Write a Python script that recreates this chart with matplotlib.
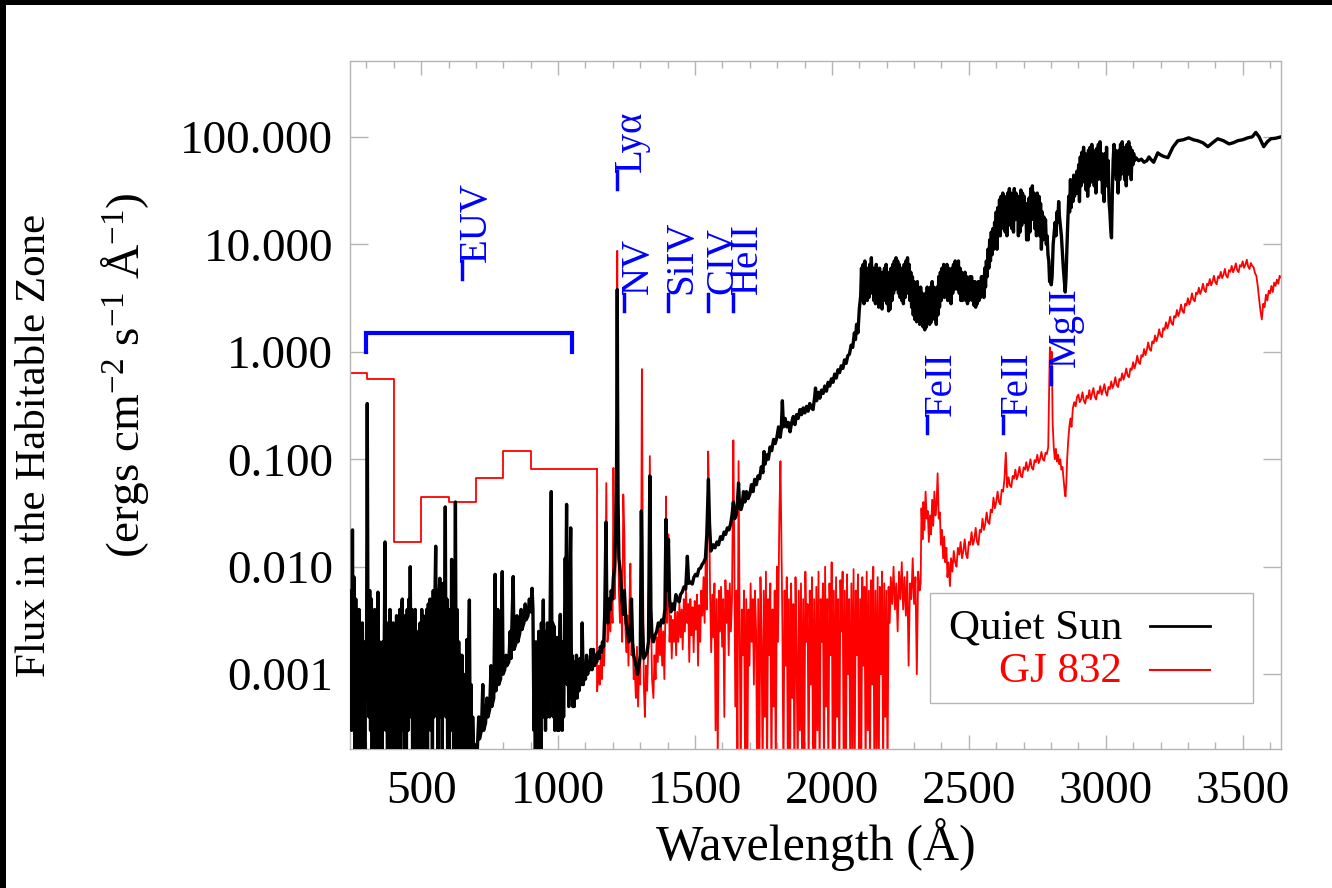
import numpy as np
import matplotlib
matplotlib.use("Agg")
import matplotlib.pyplot as plt
from matplotlib.ticker import FixedLocator, MultipleLocator, FormatStrFormatter, NullLocator
from matplotlib.patches import Rectangle
from matplotlib.lines import Line2D

plt.rcParams['font.family'] = ['Liberation Serif', 'DejaVu Serif']
plt.rcParams['mathtext.fontset'] = 'custom'
plt.rcParams['mathtext.rm'] = 'Liberation Serif'
plt.rcParams['mathtext.it'] = 'Liberation Serif:italic'

# ---------------- data ----------------
# Quiet Sun, EUV emission-line region (wavelength A, flux)
quiet_sun_euv = [
(240,0.0015),(243,0.006),(246,0.0003),(249,0.022),(252,0.0005),(255,0.008),(258,0.0002),(261,0.005),
(264,0.0004),(267,0.003),(270,0.00015),(273,0.004),(276,0.0003),(279,0.0025),(282,0.0001),(285,0.003),
(288,0.0004),(291,0.002),(294,0.0002),(297,0.0015),(300,0.0006),(303,0.33),(306,0.0012),(309,0.0004),
(312,0.006),(315,0.0003),(318,0.005),(321,0.0002),(324,0.0025),(327,0.0003),(330,0.004),(333,0.0001),
(336,0.003),(339,0.0004),(342,0.0058),(345,0.0002),(348,0.002),(351,0.0001),(354,0.0015),(357,0.0002),
(360,0.002),(363,0.0004),(366,0.004),(368,0.017),(371,0.0003),(374,0.003),(377,0.0001),(380,0.0025),
(383,0.0001),(386,0.004),(389,0.0001),(392,0.0022),(395,0.0001),(398,0.003),(401,0.0001),(404,0.0028),
(407,0.0001),(410,0.0035),(413,0.0002),(416,0.003),(419,0.0003),(422,0.004),(425,0.0002),(428,0.004),
(431,0.005),(434,0.0003),(437,0.0035),(440,0.0001),(443,0.003),(446,0.0002),(449,0.004),(452,0.0003),
(455,0.005),(458,0.0006),(460,0.01),(463,0.0004),(466,0.004),(469,0.0001),(472,0.003),(475,0.0002),
(478,0.004),(481,0.0001),(484,0.0025),(487,0.0001),(490,0.002),(493,0.0001),(496,0.003),(499,0.0002),
(502,0.004),(505,0.0003),(508,0.0035),(511,0.0001),(514,0.003),(517,0.0001),(520,0.004),(523,0.0002),
(526,0.0045),(529,0.0004),(532,0.005),(535,0.0003),(538,0.0045),(541,0.0002),(544,0.006),(547,0.0004),
(550,0.005),(553,0.0155),(556,0.0005),(559,0.006),(562,0.0002),(565,0.005),(568,0.0078),(571,0.0004),
(574,0.006),(577,0.0002),(580,0.007),(583,0.0005),(586,0.005),(588,0.036),(591,0.0004),(594,0.005),
(597,0.0001),(600,0.004),(603,0.0002),(606,0.004),(609,0.0005),(611,0.0117),(614,0.0003),(617,0.005),
(620,0.0001),(623,0.005),(625,0.04),(628,0.0003),(631,0.004),(634,0.0001),(637,0.002),(640,0.0001),
(643,0.0015),(646,0.0001),(649,0.0015),(652,0.0001),(655,0.001),(658,0.0001),(661,0.0009),(664,0.0001),
(667,0.0021),(670,0.0001),(673,0.0015),(676,0.0049),(679,0.0002),(682,0.0008),(685,0.0001),(688,0.0004)]

# Quiet Sun, 690-2105 A (continuum + FUV lines)
quiet_sun_fuv = [
(692,0.00018),(700,0.00022),(705,0.0002),(710,0.0004),(713,0.00025),(720,0.0003),(725,0.0008),(728,0.0003),
(735,0.00035),(740,0.0006),(744,0.0004),(750,0.00047),(755,0.0012),(758,0.0005),(765,0.0006),(770,0.0085),
(773,0.0007),(780,0.004),(783,0.0008),(790,0.0009),(796,0.009),(799,0.001),(805,0.0011),(810,0.0015),
(813,0.0012),(820,0.0013),(825,0.0025),(828,0.0014),(836,0.0081),(839,0.0017),(845,0.0019),(850,0.0035),
(853,0.002),(860,0.0024),(865,0.004),(868,0.0026),(875,0.003),(880,0.0045),(883,0.0032),(890,0.0035),
(895,0.005),(900,0.0038),(905,0.0063),(908,0.0041),(912,0.0003),
(914,0.0012),(917,0.0002),(919,0.002),(922,0.0003),(924,0.0015),(927,0.0002),(929,0.0025),(932,0.0003),
(934,0.0018),(937,0.0002),(939,0.003),(942,0.0004),(944,0.002),(946,0.0049),(949,0.0004),(951,0.0025),
(954,0.0003),(956,0.002),(959,0.0004),(961,0.003),(964,0.0005),(966,0.0025),(969,0.0004),(971,0.004),
(975,0.05),(978,0.0006),(980,0.003),(983,0.0004),(985,0.0028),(988,0.0003),(990,0.002),(993,0.0004),
(995,0.0022),(998,0.0003),(1000,0.0018),(1003,0.0003),(1005,0.0015),(1008,0.0036),(1010,0.0004),(1013,0.0015),
(1015,0.0003),(1018,0.002),(1020,0.0004),(1023,0.002),(1026,0.012),(1028,0.004),(1031,0.038),(1034,0.0008),
(1036,0.002),(1039,0.0005),(1041,0.003),(1044,0.01),(1046,0.023),(1049,0.0006),(1051,0.0015),(1054,0.0005),
(1056,0.0012),(1059,0.0005),(1061,0.0013),(1064,0.0006),(1067,0.0015),(1070,0.0006),(1073,0.0012),(1076,0.0007),
(1080,0.0014),(1084,0.0008),(1088,0.003),(1092,0.0008),(1096,0.0012),(1100,0.0009),(1104,0.0015),(1108,0.001),
(1112,0.0013),(1116,0.0011),(1120,0.0017),(1124,0.0011),(1129,0.0017),(1133,0.0012),(1137,0.0015),(1141,0.0013),
(1146,0.0016),(1150,0.0014),(1154,0.0018),(1158,0.0016),(1162,0.002),(1166,0.0018),(1170,0.0035),(1175,0.026),
(1178,0.004),(1182,0.003),(1186,0.005),(1190,0.004),(1194,0.006),(1198,0.005),(1202,0.008),(1206,0.01),
(1210,0.02),(1213,0.05),(1215,0.5),(1216,3.8),(1217,0.5),(1219,0.04),(1222,0.012),(1227,0.009),
(1233,0.005),(1238,0.0036),(1242,0.006),(1248,0.003),(1253,0.0026),(1258,0.002),(1263,0.0025),(1268,0.005),
(1272,0.002),(1276,0.0015),(1282,0.0013),(1286,0.0011),(1290,0.001),(1295,0.0012),(1300,0.0015),(1304,0.033),
(1308,0.003),(1313,0.0014),(1319,0.0015),(1325,0.0016),(1330,0.002),(1335,0.07),(1339,0.004),(1343,0.0022),
(1348,0.002),(1354,0.0023),(1360,0.0025),(1366,0.003),(1372,0.0028),(1378,0.0032),(1384,0.003),(1390,0.004),
(1394,0.0276),(1398,0.006),(1403,0.018),(1407,0.005),(1412,0.0038),(1418,0.0045),(1424,0.004),(1430,0.0055),
(1436,0.005),(1442,0.0047),(1447,0.0055),(1453,0.0058),(1460,0.0065),(1466,0.0062),(1472,0.0125),(1477,0.007),
(1483,0.0072),(1490,0.0069),(1496,0.008),(1502,0.0085),(1508,0.0082),(1514,0.0095),(1520,0.0097),(1526,0.0105),
(1532,0.011),(1538,0.012),(1543,0.02),(1549,0.065),(1553,0.025),(1558,0.014),(1563,0.015),(1567,0.016),
(1573,0.015),(1580,0.017),(1586,0.016),(1593,0.019),(1600,0.018),(1606,0.021),(1612,0.02),(1618,0.023),
(1624,0.022),(1630,0.025),(1635,0.03),(1640,0.04),(1645,0.028),(1650,0.03),(1655,0.04),(1659,0.06),
(1663,0.035),(1668,0.034),(1672,0.037),(1677,0.05),(1682,0.04),(1688,0.05),(1694,0.043),(1700,0.047),
(1706,0.058),(1712,0.05),(1718,0.065),(1724,0.058),(1730,0.07),(1736,0.066),(1742,0.085),(1748,0.075),
(1752,0.118),(1756,0.09),(1762,0.11),(1768,0.1),(1774,0.13),(1780,0.12),(1787,0.153),(1793,0.14),
(1799,0.16),(1805,0.2),(1811,0.16),(1815,0.19),(1819,0.35),(1823,0.2),(1829,0.24),(1835,0.2),
(1841,0.22),(1847,0.18),(1853,0.22),(1859,0.25),(1865,0.21),(1871,0.26),(1877,0.24),(1883,0.29),
(1889,0.26),(1895,0.3),(1901,0.27),(1907,0.31),(1913,0.28),(1919,0.33),(1925,0.3),(1931,0.29),
(1937,0.38),(1940,0.46),(1944,0.35),(1950,0.42),(1956,0.37),(1962,0.44),(1968,0.41),(1974,0.48),
(1980,0.43),(1986,0.52),(1992,0.48),(1998,0.56),(2004,0.52),(2010,0.62),(2016,0.57),(2022,0.68),
(2028,0.64),(2034,0.74),(2040,0.7),(2046,0.84),(2052,0.78),(2058,0.92),(2064,0.95),(2070,1.15),
(2076,1.1),(2082,1.5),(2086,1.3),(2090,1.8),(2095,1.5),(2100,2.5)]

# Quiet Sun, 2105-3640 A (NUV)
quiet_sun_nuv = [
(2105,3.3),(2108,6.0),(2111,3.0),(2114,6.5),(2117,2.8),(2120,7.0),(2123,3.5),(2126,5.5),(2129,3.0),(2132,6.0),
(2135,3.2),(2138,6.5),(2141,3.5),(2144,7.5),(2147,4.0),(2150,6.0),(2153,3.0),(2156,5.5),(2159,2.8),(2162,6.5),
(2165,3.5),(2168,5.5),(2171,2.6),(2174,6.0),(2177,3.2),(2180,5.0),(2183,2.5),(2186,5.5),(2189,3.0),(2192,6.0),
(2195,3.2),(2198,6.5),(2201,2.8),(2204,5.0),(2207,2.4),(2210,5.5),(2213,2.5),(2216,6.0),(2219,3.0),(2222,6.5),
(2225,3.5),(2228,7.0),(2231,3.8),(2234,7.5),(2237,4.0),(2240,7.0),(2243,3.5),(2246,6.5),(2249,3.2),(2252,6.0),
(2255,3.0),(2258,5.5),(2261,2.8),(2264,6.5),(2267,3.2),(2270,7.0),(2273,3.5),(2276,7.5),(2279,3.8),(2282,6.5),
(2285,3.0),(2288,5.5),(2291,2.6),(2294,5.0),(2297,2.2),(2300,4.5),(2303,2.0),(2306,4.0),(2309,1.9),(2312,4.5),
(2315,2.0),(2318,3.8),(2321,1.8),(2324,4.0),(2327,1.9),(2330,3.5),(2333,1.7),(2336,3.2),(2339,1.6),(2342,3.5),
(2345,1.7),(2348,4.0),(2351,2.0),(2354,3.5),(2357,1.8),(2360,4.0),(2363,1.9),(2366,4.5),(2369,2.2),(2372,4.0),
(2375,2.0),(2378,3.5),(2381,1.8),(2384,4.0),(2387,2.2),(2390,5.0),(2393,2.6),(2396,5.5),(2399,3.0),(2402,6.0),
(2405,3.5),(2408,6.5),(2411,3.2),(2414,6.0),(2417,3.5),(2420,6.5),(2423,3.0),(2426,6.0),(2429,3.2),(2432,5.5),
(2435,2.8),(2438,6.0),(2441,3.5),(2444,6.5),(2447,3.8),(2450,7.0),(2453,4.0),(2456,6.5),(2459,3.8),(2462,7.0),
(2465,3.5),(2468,6.0),(2471,3.0),(2474,5.5),(2477,3.0),(2480,5.0),(2483,3.2),(2486,5.5),(2489,3.0),(2492,5.0),
(2495,2.8),(2498,4.5),(2501,3.0),(2504,5.0),(2507,3.2),(2510,5.0),(2513,3.0),(2516,4.5),(2519,2.7),(2522,4.5),
(2525,2.6),(2528,4.0),(2531,2.8),(2534,4.5),(2537,3.0),(2540,4.5),(2543,3.2),(2546,5.0),(2549,3.4),(2552,5.0),
(2555,3.2),(2558,6.0),(2561,4.0),(2564,7.0),(2567,5.0),(2570,9.0),(2573,6.0),(2576,11),(2579,7.0),(2582,13),
(2585,8.0),(2588,14),(2591,9.0),(2594,16),(2597,10),(2600,20),(2603,9.0),(2606,22),(2609,12),(2612,26),
(2615,12),(2618,28),(2621,15),(2624,30),(2627,14),(2630,28),(2633,13),(2636,25),(2639,12),(2642,30),
(2645,15),(2648,33),(2651,18),(2654,30),(2657,14),(2660,28),(2663,13),(2666,33),(2669,17),(2672,30),
(2675,20),(2678,26),(2681,12),(2684,28),(2687,13),(2690,32),(2693,15),(2696,30),(2699,17),(2702,28),
(2705,16),(2708,24),(2711,11),(2714,22),(2717,11),(2720,27),(2723,13),(2726,33),(2729,18),(2732,35),
(2735,17),(2738,30),(2741,14),(2744,26),(2747,12),(2750,30),(2753,15),(2756,28),(2759,12),(2762,24),
(2765,9.0),(2768,20),(2771,11),(2774,18),(2777,12),(2780,17),(2783,10),(2786,12),(2789,8.0),(2792,7.0),
(2795,4.5),(2798,6.0),(2801,4.2),(2804,5.0),(2808,10),(2812,13),(2815,16),(2818,12),(2822,20),(2825,16),
(2828,25),(2831,18),(2834,15),(2838,12),(2841,9.0),(2845,6.0),(2849,4.5),(2852,3.6),(2855,5.0),(2858,9.0),
(2862,18),(2865,28),(2868,20),(2871,40),(2874,22),(2877,38),(2880,25),(2883,44),(2886,28),(2889,40),
(2892,30),(2895,48),(2898,30),(2901,55),(2904,25),(2907,65),(2910,35),(2913,72),(2916,38),(2919,80),
(2922,40),(2925,70),(2928,32),(2931,65),(2934,28),(2937,75),(2940,35),(2943,80),(2946,38),(2949,85),
(2952,40),(2955,75),(2958,35),(2961,70),(2964,30),(2967,78),(2970,40),(2973,85),(2976,45),(2979,90),
(2982,40),(2985,70),(2988,30),(2991,60),(2994,25),(2997,70),(3000,35),(3003,80),(3006,35),(3009,60),
(3012,25),(3015,20),(3018,14),(3021,11.5),(3024,30),(3027,60),(3030,85),(3033,45),(3036,75),(3039,40),
(3042,70),(3045,30),(3048,75),(3051,40),(3054,85),(3057,45),(3060,90),(3063,48),(3066,80),(3069,40),
(3072,75),(3075,35),(3078,85),(3081,45),(3084,90),(3087,50),(3090,80),(3093,40),(3096,75),(3099,55),
(3102,70),(3105,60),(3110,64),(3120,60),(3130,62),(3140,58),(3150,60),(3158,65),(3164,62),(3175,58),
(3190,71),(3200,68),(3210,66),(3227,64),(3245,80),(3263,92),(3283,94),(3303,98),(3320,94),(3336,92),
(3355,88),(3373,81),(3390,88),(3409,96),(3430,92),(3450,86),(3465,88),(3482,92),(3500,94),(3519,98),
(3535,100),(3548,110),(3560,100),(3577,81),(3590,90),(3603,96),(3620,97),(3640,100)]

# GJ 832, binned EUV (bin edges and flux)
gj832_euv_edges = [240, 303, 400, 500, 600, 700, 800, 900, 1143]
gj832_euv_flux = [0.64, 0.56, 0.017, 0.045, 0.040, 0.067, 0.12, 0.082, 0.082]

# GJ 832, FUV spectrum
gj832_fuv = [
(1143,0.0007),(1148,0.0012),(1152,0.0008),(1156,0.0015),(1160,0.0009),(1164,0.002),(1168,0.0012),(1172,0.003),
(1176,0.06),(1180,0.002),(1183,0.0023),(1187,0.004),(1191,0.0025),(1195,0.005),(1199,0.003),(1202,0.083),
(1206,0.005),(1210,0.01),(1213,0.05),(1215,1.0),(1216,8.7),(1217,1.0),(1219,0.05),(1222,0.006),
(1226,0.003),(1230,0.005),(1234,0.002),(1238,0.047),(1242,0.02),(1246,0.0025),(1250,0.0016),(1253,0.0035),
(1257,0.0012),(1260,0.004),(1264,0.0107),(1268,0.0015),(1272,0.0025),(1276,0.0009),(1280,0.0011),(1284,0.0006),
(1288,0.0018),(1292,0.0005),(1296,0.0012),(1300,0.0008),(1304,0.03),(1306,0.69),(1309,0.02),(1313,0.0008),
(1317,0.0004),(1321,0.0012),(1325,0.0007),(1330,0.002),(1335,0.107),(1339,0.004),(1343,0.0009),(1348,0.0006),
(1352,0.0015),(1356,0.0009),(1360,0.0022),(1364,0.0013),(1368,0.0028),(1372,0.0015),(1376,0.003),(1380,0.0012),
(1384,0.0025),(1388,0.0009),(1392,0.004),(1394,0.045),(1398,0.003),(1403,0.02),(1407,0.002),(1411,0.0035),
(1415,0.0014),(1419,0.0032),(1423,0.002),(1427,0.004),(1431,0.0015),(1435,0.0038),(1439,0.002),(1443,0.0045),
(1447,0.0022),(1451,0.004),(1455,0.0017),(1459,0.005),(1463,0.0025),(1467,0.006),(1471,0.003),(1475,0.0045),
(1479,0.0013),(1483,0.005),(1487,0.0023),(1491,0.0042),(1495,0.0016),(1499,0.0048),(1503,0.0026),(1507,0.0055),
(1511,0.0012),(1515,0.0044),(1519,0.002),(1523,0.006),(1527,0.0035),(1531,0.008),(1535,0.003),(1539,0.012),
(1543,0.004),(1548,0.118),(1551,0.05),(1555,0.006),(1559,0.0016),(1563,0.0055),(1567,0.0022),(1571,0.007),
(1575,0.0003),(1579,0.005),(1583,0.00015),(1587,0.006),(1591,0.0025),(1595,0.0065),(1599,0.0018),(1603,0.005),
(1607,0.0004),(1611,0.0075),(1615,0.003),(1619,0.006),(1623,0.0015),(1627,0.007),(1631,0.0025),(1635,0.005),
(1640,0.15),(1643,0.02),(1647,0.0005),(1651,0.006),(1655,0.00015),(1659,0.096),(1663,0.003),(1667,0.0001),
(1671,0.004),(1675,0.0015),(1679,0.006),(1683,0.0001),(1687,0.005),(1691,0.0001),(1695,0.004),(1699,0.0012),
(1703,0.007),(1707,0.002),(1711,0.005),(1715,0.0008),(1719,0.006),(1723,0.0025),(1727,0.0001),(1731,0.005),
(1735,0.0001),(1739,0.008),(1743,0.002),(1747,0.0001),(1751,0.006),(1755,0.0004),(1759,0.009),(1763,0.0001),
(1767,0.005),(1771,0.0015),(1775,0.007),(1779,0.0001),(1783,0.004),(1787,0.0005),(1791,0.006),(1795,0.0001),
(1799,0.01),(1803,0.002),(1808,0.03),(1812,0.096),(1815,0.02),(1819,0.003),(1823,0.0001),(1827,0.006),
(1831,0.0012),(1835,0.008),(1839,0.0001),(1843,0.005),(1847,0.0001),(1851,0.007),(1855,0.0006),(1859,0.0045),
(1863,0.0001),(1867,0.008),(1871,0.0015),(1875,0.0001),(1879,0.006),(1883,0.0003),(1887,0.007),(1891,0.0001),
(1895,0.005),(1899,0.0001),(1903,0.009),(1907,0.002),(1911,0.0045),(1915,0.0001),(1919,0.006),(1923,0.0008),
(1927,0.008),(1931,0.0001),(1935,0.005),(1939,0.0001),(1943,0.0065),(1947,0.0003),(1951,0.009),(1955,0.0001),
(1959,0.005),(1963,0.002),(1967,0.007),(1971,0.0001),(1975,0.01),(1979,0.0005),(1983,0.005),(1987,0.0001),
(1991,0.007),(1995,0.0015),(1999,0.011),(2003,0.0001),(2007,0.006),(2011,0.0001),(2015,0.008),(2019,0.0004),
(2023,0.005),(2027,0.0001),(2031,0.0075),(2035,0.0025),(2039,0.009),(2043,0.0001),(2047,0.006),(2051,0.0001),
(2055,0.0085),(2059,0.001),(2063,0.005),(2067,0.0001),(2071,0.007),(2075,0.0002),(2079,0.0095),(2083,0.0001),
(2087,0.006),(2091,0.0015),(2095,0.0085),(2099,0.0001),(2103,0.005),(2107,0.0001),(2111,0.008),(2115,0.0012),
(2119,0.0065),(2123,0.0001),(2127,0.009),(2131,0.0003),(2135,0.006),(2139,0.0001),(2143,0.0075),(2147,0.0008),
(2151,0.01),(2155,0.0001),(2159,0.006),(2163,0.0002),(2167,0.008),(2171,0.0001),(2175,0.0065),(2179,0.001),
(2183,0.009),(2187,0.0001),(2191,0.007),(2195,0.0004),(2199,0.006),(2203,0.0001),(2207,0.0065),(2211,0.003),
(2215,0.008),(2220,0.0045),(2225,0.01),(2230,0.004),(2235,0.007),(2240,0.0025),(2245,0.009),(2250,0.005),
(2255,0.011),(2260,0.004),(2265,0.008),(2270,0.0035),(2275,0.009),(2280,0.0012),(2285,0.007),(2290,0.005),
(2295,0.012),(2300,0.0045),(2305,0.008),(2310,0.001),(2315,0.009),(2320,0.006)]

# GJ 832, NUV spectrum
gj832_nuv = [
(2324,0.007),(2327,0.035),(2331,0.018),(2334,0.04),(2338,0.022),(2342,0.05),(2346,0.028),(2350,0.033),
(2354,0.017),(2358,0.03),(2362,0.02),(2366,0.042),(2370,0.024),(2374,0.05),(2378,0.03),(2382,0.038),
(2386,0.074),(2390,0.028),(2394,0.032),(2398,0.016),(2402,0.022),(2406,0.012),(2410,0.019),(2414,0.011),
(2418,0.015),(2422,0.008),(2426,0.011),(2431,0.0066),(2435,0.012),(2440,0.009),(2445,0.014),(2450,0.011),
(2455,0.010),(2460,0.015),(2465,0.013),(2470,0.017),(2475,0.012),(2480,0.014),(2485,0.018),(2490,0.013),
(2495,0.012),(2500,0.017),(2505,0.016),(2510,0.021),(2515,0.016),(2520,0.018),(2525,0.023),(2530,0.017),
(2535,0.016),(2540,0.022),(2545,0.021),(2550,0.028),(2555,0.022),(2560,0.025),(2565,0.032),(2570,0.026),
(2575,0.025),(2580,0.034),(2585,0.032),(2590,0.044),(2595,0.035),(2600,0.04),(2605,0.05),(2610,0.04),
(2615,0.038),(2620,0.052),(2625,0.05),(2630,0.065),(2635,0.115),(2640,0.055),(2645,0.068),(2650,0.057),
(2655,0.055),(2660,0.07),(2665,0.066),(2670,0.08),(2675,0.065),(2680,0.072),(2685,0.085),(2690,0.07),
(2695,0.068),(2700,0.084),(2705,0.08),(2710,0.094),(2715,0.078),(2720,0.086),(2725,0.1),(2730,0.083),
(2735,0.08),(2740,0.098),(2745,0.094),(2750,0.11),(2755,0.092),(2760,0.1),(2765,0.117),(2770,0.1),
(2775,0.097),(2780,0.115),(2785,0.112),(2790,0.13),(2794,0.6),(2796,1.1),(2799,0.8),(2803,1.0),
(2806,0.22),(2810,0.13),(2814,0.1),(2818,0.125),(2822,0.095),(2826,0.11),(2830,0.09),(2834,0.1),
(2838,0.08),(2842,0.085),(2846,0.065),(2850,0.05),(2853,0.045),(2856,0.06),(2859,0.1),(2863,0.15),
(2867,0.2),(2871,0.24),(2875,0.2),(2880,0.3),(2885,0.34),(2890,0.31),(2895,0.38),(2900,0.4),
(2905,0.34),(2910,0.36),(2915,0.42),(2920,0.35),(2925,0.33),(2930,0.39),(2935,0.37),(2940,0.44),
(2945,0.36),(2950,0.41),(2955,0.46),(2960,0.38),(2965,0.36),(2970,0.43),(2975,0.41),(2980,0.48),
(2985,0.40),(2990,0.44),(2995,0.50),(3000,0.42),(3005,0.39),(3010,0.47),(3015,0.45),(3020,0.53),
(3025,0.46),(3030,0.50),(3035,0.58),(3040,0.49),(3045,0.47),(3050,0.56),(3055,0.54),(3060,0.63),
(3065,0.55),(3070,0.61),(3075,0.70),(3080,0.60),(3085,0.58),(3090,0.70),(3095,0.68),(3100,0.80),
(3105,0.70),(3110,0.78),(3115,0.92),(3120,0.80),(3125,0.77),(3130,0.93),(3135,0.90),(3140,1.06),
(3145,0.93),(3150,1.04),(3155,1.22),(3160,1.06),(3165,1.02),(3170,1.25),(3175,1.20),(3180,1.42),
(3185,1.25),(3190,1.38),(3195,1.62),(3200,1.42),(3205,1.37),(3210,1.66),(3215,1.60),(3220,1.88),
(3225,1.65),(3230,1.82),(3235,2.12),(3240,1.85),(3245,1.78),(3250,2.15),(3255,2.08),(3260,2.45),
(3265,2.15),(3270,2.35),(3275,2.75),(3280,2.40),(3285,2.30),(3290,2.80),(3295,2.70),(3300,3.15),
(3305,2.75),(3310,3.00),(3315,3.50),(3320,3.05),(3325,2.95),(3330,3.55),(3335,3.45),(3340,3.95),
(3345,3.45),(3350,3.75),(3355,4.30),(3360,3.75),(3365,3.60),(3370,4.30),(3375,4.15),(3380,4.75),
(3385,4.15),(3390,4.50),(3395,5.10),(3400,4.45),(3405,4.25),(3410,5.05),(3415,4.85),(3420,5.55),
(3425,4.85),(3430,5.20),(3435,5.90),(3440,5.10),(3445,4.90),(3450,5.75),(3455,5.55),(3460,6.30),
(3465,5.50),(3470,5.90),(3475,6.65),(3480,5.75),(3485,5.50),(3490,6.40),(3495,6.20),(3500,6.95),
(3505,6.05),(3510,6.45),(3515,7.20),(3520,6.20),(3525,5.90),(3530,6.70),(3535,6.30),(3540,6.10),
(3545,5.40),(3550,5.10),(3555,4.10),(3560,3.10),(3565,2.40),(3570,2.00),(3575,2.80),(3580,2.60),
(3585,3.40),(3590,3.00),(3595,3.70),(3600,3.50),(3605,4.10),(3610,3.60),(3615,4.40),(3620,4.10),
(3625,4.70),(3630,4.30),(3635,5.10),(3640,4.90)]

# line identifications: name, wavelength (A), flux at bottom of the marker
line_names = ["EUV", "Lyα", "NV", "SiIV", "CIV", "HeII", "FeII", "FeII", "MgII"]
line_waves = [650, 1216, 1240, 1400, 1549, 1640, 2349, 2624, 2800]
line_flux = [4.8, 33.0, 2.4, 2.4, 2.4, 2.4, 0.175, 0.175, 0.5]
euv_band = [300, 1050]
euv_band_flux = [1.0, 1.5]

x_ticks = [500, 1000, 1500, 2000, 2500, 3000, 3500]
y_ticks = [0.001, 0.01, 0.1, 1.0, 10.0, 100.0]
series_names = ["Quiet Sun", "GJ 832"]

# ---------------- figure ----------------
W, H = 1332, 888
fig = plt.figure(figsize=(W/100, H/100), dpi=100)
fig.add_artist(Rectangle((0, 1-5/H), 1, 5/H, transform=fig.transFigure, color='black', lw=0))
fig.add_artist(Rectangle((0, 0), 6/W, 1, transform=fig.transFigure, color='black', lw=0))

ax = fig.add_axes([350/W, 1-749.3/H, (1281-350)/W, (749.3-61)/H])

qs = np.array(quiet_sun_euv + quiet_sun_fuv + quiet_sun_nuv)
gj_f = np.array(gj832_fuv + gj832_nuv)

ax.plot(qs[:, 0], qs[:, 1], color='black', lw=2.4, zorder=3)
ax.plot(gj832_euv_edges, gj832_euv_flux, color='red', lw=1.3, drawstyle='steps-post', zorder=2)
ax.plot([gj832_euv_edges[-1], gj_f[0, 0]], [gj832_euv_flux[-1], gj_f[0, 1]], color='red', lw=1.3, zorder=2)
ax.plot(gj_f[:, 0], gj_f[:, 1], color='red', lw=1.3, zorder=2)

# EUV bracket
ax.plot([euv_band[0], euv_band[0], euv_band[1], euv_band[1]],
        [euv_band_flux[0], euv_band_flux[1], euv_band_flux[1], euv_band_flux[0]],
        color='#0000ff', lw=3.0, solid_joinstyle='miter', zorder=4)

# line markers and names
for name, w, f in zip(line_names, line_waves, line_flux):
    ax.plot([w, w], [f, f * 1.45], color='#0000ff', lw=2.5, zorder=5)
    ax.annotate(name, xy=(w, f), xytext=(-3, 12), textcoords='offset points',
                rotation=90, ha='left', va='bottom', color='#0000ff', fontsize=28, zorder=5)

ax.set_yscale('log')
ax.set_xlim(240, 3640)
ax.set_ylim(2e-4, 508)

ax.xaxis.set_major_locator(FixedLocator(x_ticks))
ax.xaxis.set_minor_locator(MultipleLocator(100))
ax.yaxis.set_major_locator(FixedLocator(y_ticks))
ax.yaxis.set_minor_locator(NullLocator())
ax.yaxis.set_major_formatter(FormatStrFormatter('%.3f'))

grey = '#b4b4b4'
for s in ax.spines.values():
    s.set_color(grey)
    s.set_linewidth(1.0)
ax.tick_params(axis='both', which='both', direction='in', color=grey, width=1.0,
               top=True, right=True, labelsize=34)
ax.tick_params(axis='x', which='major', length=10, pad=15)
ax.tick_params(axis='x', which='minor', length=5)
ax.tick_params(axis='y', which='major', length=13, pad=12)

ax.set_xlabel('Wavelength (Å)', fontsize=36, labelpad=4)

fig.text(35/W, 1-445/H, 'Flux in the Habitable Zone', rotation=90, ha='center', va='center', fontsize=31)
fig.text(125/W, 1-375/H, '(ergs cm$^{-2}$ s$^{-1}$ Å$^{-1}$)', rotation=90, ha='center', va='center', fontsize=34)

# legend (drawn as a box with right-aligned labels and line samples)
ax.add_patch(Rectangle((0.623, 0.0673), 0.347, 0.160, transform=ax.transAxes,
                       facecolor='white', edgecolor=grey, lw=1.0, zorder=6))
for name, col, ty, ly in zip(series_names, ['black', 'red'], [0.161, 0.098], [0.179, 0.115]):
    ax.text(0.829, ty, name, transform=ax.transAxes, ha='right', va='baseline',
            fontsize=31, color=col, zorder=7)
    ax.add_line(Line2D([0.859, 0.924], [ly, ly], transform=ax.transAxes, color=col,
                       lw=2.0 if col == 'black' else 1.5, zorder=7))

fig.savefig('out.png', dpi=100, facecolor='white')
